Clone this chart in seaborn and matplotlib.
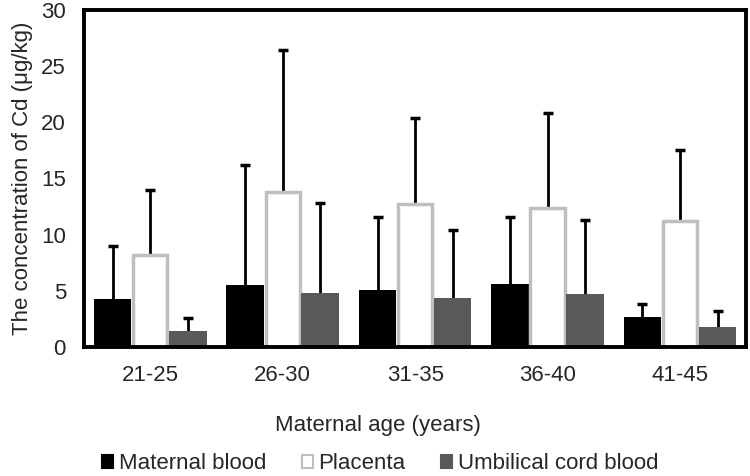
import numpy as np
import pandas as pd
import seaborn as sns
import matplotlib.pyplot as plt

age_groups = ['21-25', '26-30', '31-35', '36-40', '41-45']
tissues = ['Maternal blood', 'Placenta', 'Umbilical cord blood']
maternal_mean = [4.3, 5.5, 5.1, 5.6, 2.7]
maternal_sd = [4.7, 10.7, 6.5, 6.0, 1.1]
placenta_mean = [8.2, 13.8, 12.7, 12.35, 11.25]
placenta_sd = [5.8, 12.6, 7.7, 8.45, 6.25]
cord_mean = [1.45, 4.85, 4.4, 4.7, 1.8]
cord_sd = [1.15, 7.95, 6.0, 6.6, 1.4]

df = pd.DataFrame({
    'age': age_groups * 3,
    'tissue': np.repeat(tissues, len(age_groups)),
    'mean': maternal_mean + placenta_mean + cord_mean,
    'sd': maternal_sd + placenta_sd + cord_sd,
})

sns.set_style('white')
plt.rcParams['font.family'] = ['Liberation Sans', 'DejaVu Sans']
fs = 16

fig, ax = plt.subplots(figsize=(7.5, 4.76), dpi=100)
fig.subplots_adjust(left=0.112, right=0.995, top=0.979, bottom=0.271)

palette = {'Maternal blood': '#000000', 'Placenta': '#ffffff', 'Umbilical cord blood': '#595959'}
sns.barplot(data=df, x='age', y='mean', hue='tissue', palette=palette,
            width=0.85, errorbar=None, saturation=1, ax=ax, legend=False)

sds = [maternal_sd, placenta_sd, cord_sd]
for cont, sd, name in zip(ax.containers, sds, tissues):
    xs = [p.get_x() + p.get_width() / 2 for p in cont]
    ys = [p.get_height() for p in cont]
    for p in cont:
        p.set_zorder(2)
        if name == 'Placenta':
            p.set_edgecolor('#bfbfbf')
            p.set_linewidth(2.5)
            # shrink so the edge stays inside its slot
            p.set_x(p.get_x() + 0.012)
            p.set_width(p.get_width() - 0.024)
        else:
            p.set_edgecolor('none')
    eb = ax.errorbar(xs, ys, yerr=[np.zeros(len(sd)), sd], fmt='none',
                     ecolor='black', elinewidth=2, capsize=3.5, capthick=2.5, zorder=1)
    # drop the cap at the bar top, keep only the upper one
    eb[1][0].remove()

ax.set_ylim(0, 30)
ax.set_yticks(range(0, 31, 5))
ax.set_xlim(-0.5, 4.5)
ax.tick_params(axis='y', direction='in', length=5, width=2, labelsize=fs, pad=13)
ax.tick_params(axis='x', length=0, labelsize=fs, pad=13)
for s in ax.spines.values():
    s.set_visible(True)
    s.set_color('black')
    s.set_linewidth(2.8)

ax.set_xlabel('Maternal age (years)', fontsize=fs, labelpad=21)
ax.xaxis.label.set_x(0.444)
ax.set_ylabel('The concentration of Cd (μg/kg)', fontsize=fs, labelpad=6)

handles = [plt.Rectangle((0, 0), 1, 1, facecolor=palette[t],
                         edgecolor='#bfbfbf' if t == 'Placenta' else palette[t],
                         linewidth=1.5) for t in tissues]
fig.legend(handles, tissues, loc='center', ncol=3, frameon=False,
           fontsize=fs, handlelength=0.5, handleheight=0.5, handletextpad=0.25,
           columnspacing=1.6, bbox_to_anchor=(0.507, 0.026), borderaxespad=0)

plt.savefig('out.png', dpi=100)
